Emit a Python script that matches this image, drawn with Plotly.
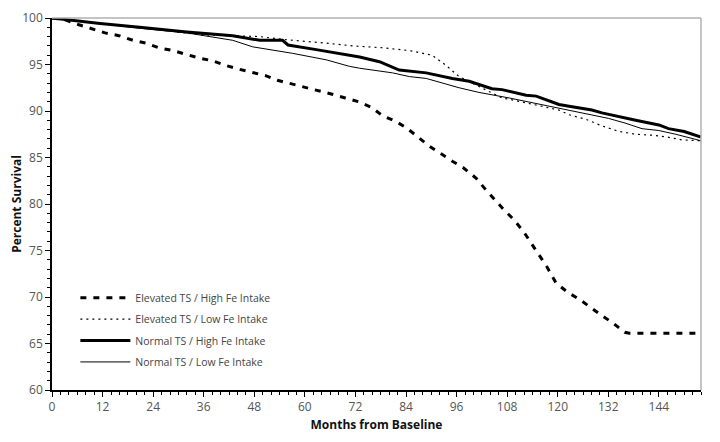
import plotly.graph_objects as go

# Elevated TS / High Fe Intake
eh_m = [0, 3.1, 6.2, 9.7, 12.6, 15.9, 19.2, 22.3, 25.3, 28.7, 31.7, 34.8, 38.1, 41.2, 44.3, 47.6, 50.7,
        53.5, 57.1, 60.1, 63.2, 66.5, 69.6, 72.7, 75.8, 78.4, 81.5, 84.1, 89.3, 91.9, 95.0, 97.6, 100.6,
        102.8, 104.9, 107.0, 109.4, 111.8, 113.7, 115.6, 117.5, 119.6, 122.4, 125.3, 127.9, 130.5, 133.1,
        135.9, 137.0, 154]
eh_v = [100, 99.8, 99.3, 98.8, 98.4, 98.1, 97.6, 97.3, 96.8, 96.5, 96.1, 95.7, 95.4, 94.9, 94.5, 94.1, 93.8,
        93.3, 92.9, 92.5, 92.2, 91.8, 91.4, 91.0, 90.4, 89.5, 88.9, 88.2, 86.3, 85.5, 84.6, 83.9, 82.8,
        81.6, 80.5, 79.5, 78.4, 77.1, 75.8, 74.5, 73.2, 71.5, 70.5, 69.7, 68.8, 68.0, 67.2,
        66.2, 66.1, 66.1]

# Elevated TS / Low Fe Intake
el_m = [0, 11.4, 20.8, 35, 49.3, 54.7, 65.1, 71.3, 78.4, 84.8, 90.2, 93.5, 96.6, 100.6, 104.4, 106.8,
        109.2, 113.9, 117, 120.3, 122.7, 126.7, 130.5, 134.5, 138.5, 142.3, 146, 149.4, 154]
el_v = [100, 99.4, 99.0, 98.2, 98.0, 97.7, 97.3, 97.0, 96.8, 96.5, 96.0, 94.9, 93.7, 92.8, 91.9, 91.4,
        91.2, 90.7, 90.4, 90.1, 89.6, 89.1, 88.4, 87.8, 87.5, 87.4, 87.2, 86.9, 86.8]

# Normal TS / High Fe Intake
nh_m = [0, 11.4, 20.8, 32, 42.9, 49.3, 54.7, 56.0, 62.7, 65.1, 73, 77.7, 82.4, 88.8, 95, 99, 104.4,
        106.8, 112.5, 114.9, 120.3, 122.7, 128.1, 130.5, 136.2, 138.5, 144, 146.3, 150, 154]
nh_v = [100, 99.4, 99.0, 98.5, 98.1, 97.6, 97.6, 97.1, 96.6, 96.4, 95.8, 95.3, 94.4, 94.1, 93.5, 93.2, 92.4,
        92.3, 91.7, 91.6, 90.7, 90.5, 90.1, 89.8, 89.2, 89.0, 88.5, 88.1, 87.8, 87.2]

# Normal TS / Low Fe Intake
nl_m = [0, 11.4, 20.8, 32, 42.9, 47.6, 57.1, 65.1, 70.6, 73, 80.8, 84.8, 88.8, 96.6, 101.3, 108.5,
        114, 120.3, 126, 132.1, 136, 140, 144, 148, 154]
nl_v = [100, 99.4, 98.9, 98.4, 97.6, 96.9, 96.2, 95.5, 94.8, 94.6, 94.1, 93.7, 93.5, 92.5, 92.0, 91.4,
        90.9, 90.3, 89.8, 89.2, 88.7, 88.1, 87.9, 87.5, 86.8]

x_ticks = [0, 12, 24, 36, 48, 60, 72, 84, 96, 108, 120, 132, 144]
y_ticks = [60, 65, 70, 75, 80, 85, 90, 95, 100]

FONT = "Open Sans, sans-serif"

fig = go.Figure()
fig.add_trace(go.Scatter(x=eh_m, y=eh_v, mode="lines", name="Elevated TS / High Fe Intake", legendgroup="a",
                         line=dict(color="black", width=3, dash="6px,7px")))
fig.add_trace(go.Scatter(x=el_m, y=el_v, mode="lines", name="Elevated TS / Low Fe Intake", legendgroup="b",
                         line=dict(color="black", width=1.2, dash="2px,4px")))
fig.add_trace(go.Scatter(x=nh_m, y=nh_v, mode="lines", name="Normal TS / High Fe Intake", legendgroup="c",
                         line=dict(color="black", width=3)))
fig.add_trace(go.Scatter(x=nl_m, y=nl_v, mode="lines", name="Normal TS / Low Fe Intake", legendgroup="d",
                         line=dict(color="black", width=1)))

fig.update_layout(
    width=720, height=442,
    margin=dict(l=44, r=27, t=10, b=60),
    paper_bgcolor="white", plot_bgcolor="white",
    font=dict(family=FONT, size=12, color="#333"),
    showlegend=True,
    legend=dict(x=0.036, y=0.287, xanchor="left", yanchor="top", bgcolor="rgba(0,0,0,0)",
                font=dict(family=FONT, size=10.5, color="#444"), itemwidth=50, tracegroupgap=2.4),
    xaxis=dict(range=[0, 154], tickvals=x_ticks, ticktext=[str(v) for v in x_ticks], automargin=False,
               showgrid=False, zeroline=False, showline=True, linecolor="black", linewidth=1.5,
               ticks="outside", ticklen=5, tickcolor="black", tickwidth=1.2,
               minor=dict(dtick=2, tick0=0, ticks="outside", ticklen=3, tickcolor="black", tickwidth=1),
               tickfont=dict(family=FONT, size=12, color="#555"),
               title=dict(text="<b>Months from Baseline</b>", font=dict(family=FONT, size=12, color="#111"),
                          standoff=6)),
    yaxis=dict(range=[60, 100], tickvals=y_ticks, ticktext=[str(v) for v in y_ticks], automargin=False,
               showgrid=False, zeroline=False, showline=True, linecolor="black", linewidth=1.5,
               ticks="outside", ticklen=5, tickcolor="black", tickwidth=1.2,
               minor=dict(dtick=1, tick0=60, ticks="outside", ticklen=3, tickcolor="black", tickwidth=1),
               tickfont=dict(family=FONT, size=12, color="#555"),
               title=dict(text="<b>Percent Survival</b>", font=dict(family=FONT, size=12, color="#111"),
                          standoff=10)),
    shapes=[
        dict(type="line", xref="paper", yref="paper", x0=0, x1=1, y0=1, y1=1,
             line=dict(color="#b0b0b0", width=1.5)),
        dict(type="line", xref="paper", yref="paper", x0=1, x1=1, y0=0, y1=1,
             line=dict(color="#b0b0b0", width=1.5)),
    ],
)

fig.write_html("out.html")
